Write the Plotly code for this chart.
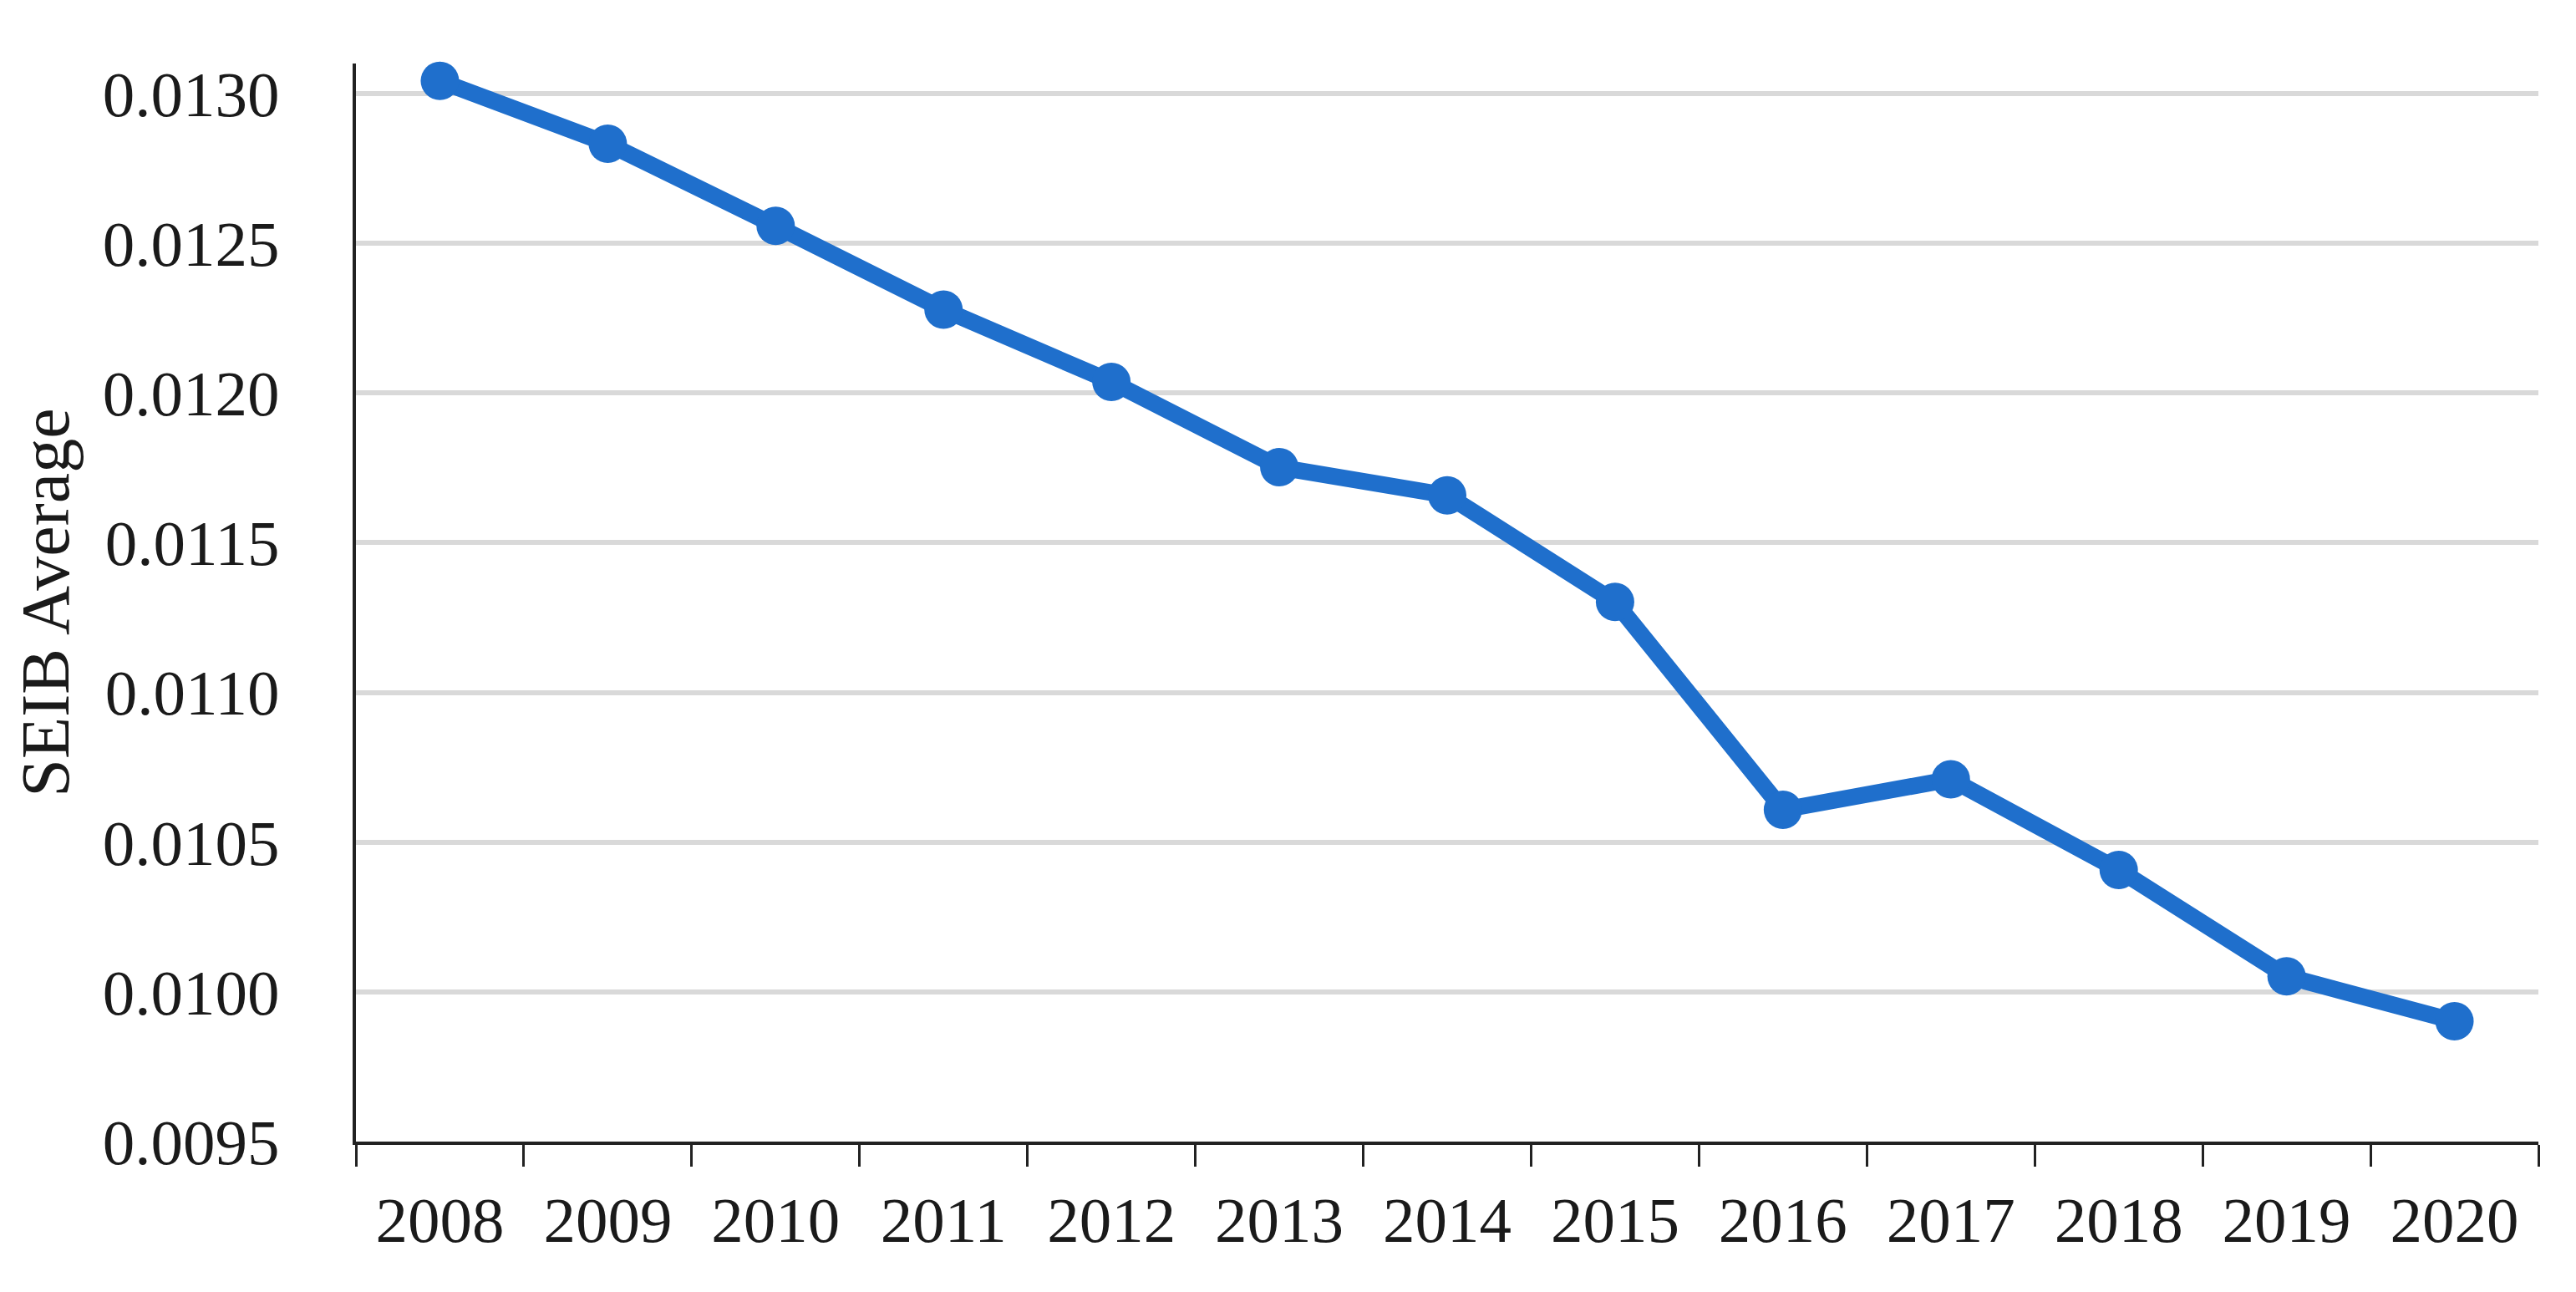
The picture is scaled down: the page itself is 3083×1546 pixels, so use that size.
import plotly.graph_objects as go

years = ["2008", "2009", "2010", "2011", "2012", "2013", "2014",
         "2015", "2016", "2017", "2018", "2019", "2020"]
seib_avg = [0.013042, 0.012832, 0.012558, 0.012278, 0.012037, 0.011752, 0.011658,
            0.011302, 0.010608, 0.010710, 0.010407, 0.010052, 0.009902]

y_title = "SEIB Average"
y_range = [0.0095, 0.0131]
y_tick0 = 0.0095
y_dtick = 0.0005

FONT = "Liberation Serif, Times New Roman, serif"
BLUE = "#1f6fcc"
TXT = "#1a1a1a"

fig = go.Figure()
fig.add_trace(go.Scatter(
    x=years, y=seib_avg, mode="lines+markers",
    line=dict(color=BLUE, width=20),
    marker=dict(color=BLUE, size=46),
    showlegend=False, cliponaxis=False,
))

fig.update_layout(
    width=3083, height=1546,
    margin=dict(l=418, r=53, t=68, b=188),
    paper_bgcolor="white", plot_bgcolor="white",
    font=dict(family=FONT, size=77, color=TXT),
)
fig.update_xaxes(
    type="category", range=[-0.5, 12.5],
    showline=True, linecolor="#222222", linewidth=4,
    ticks="outside", tickson="boundaries", ticklen=26, tickwidth=3, tickcolor="#222222",
    showgrid=False, zeroline=False,
    tickfont=dict(family=FONT, size=77, color=TXT),
    ticklabelstandoff=24,
)
fig.update_yaxes(
    range=y_range, tick0=y_tick0, dtick=y_dtick, tickformat=".4f",
    showline=True, linecolor="#222222", linewidth=4,
    ticks="", showgrid=True, gridcolor="#d9d9d9", gridwidth=6,
    zeroline=False,
    tickfont=dict(family=FONT, size=77, color=TXT),
    ticklabelstandoff=72,
    title=dict(text=y_title, font=dict(family=FONT, size=82, color=TXT), standoff=14),
)

fig.write_html("out.html")
